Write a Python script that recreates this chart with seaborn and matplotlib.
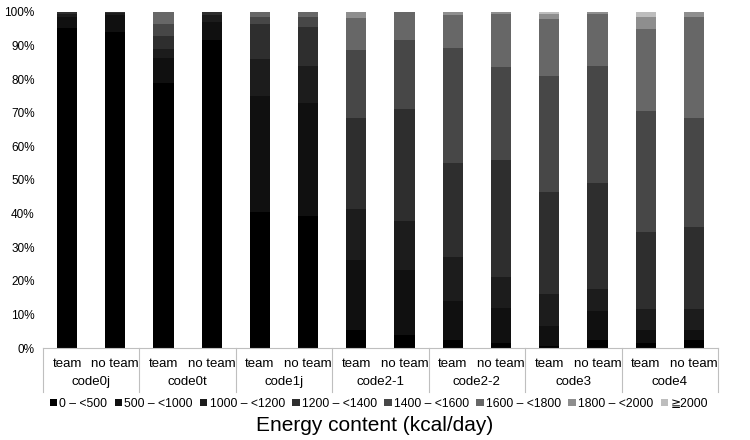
import numpy as np
import pandas as pd
import matplotlib
matplotlib.use("Agg")
import matplotlib.pyplot as plt
from matplotlib.patches import Patch
import seaborn as sns

codes = ["code0j", "code0t", "code1j", "code2-1", "code2-2", "code3", "code4"]
groups = ["team", "no team"]
energy_bins = ["0 – <500", "500 – <1000", "1000 – <1200", "1200 – <1400",
               "1400 – <1600", "1600 – <1800", "1800 – <2000", "≧2000"]
bin_colors = ["#000000", "#101010", "#1c1c1c", "#2e2e2e",
              "#474747", "#676767", "#8e8e8e", "#bdbdbd"]

# share (%) of each energy bin, one list per bar (team / no team per code)
code0j_team = [95.1, 3.4, 1.0, 0.5, 0, 0, 0, 0]
code0j_noteam = [94.1, 4.9, 0.7, 0.3, 0, 0, 0, 0]
code0t_team = [78.7, 7.5, 2.9, 3.8, 3.6, 3.5, 0, 0]
code0t_noteam = [91.5, 5.5, 2.0, 1.0, 0, 0, 0, 0]
code1j_team = [40.4, 34.6, 11.1, 10.4, 2.0, 1.5, 0, 0]
code1j_noteam = [39.3, 33.7, 10.9, 11.6, 3.0, 1.5, 0, 0]
code21_team = [5.4, 20.8, 15.2, 27.1, 20.3, 9.4, 1.8, 0]
code21_noteam = [4.0, 19.3, 14.5, 33.3, 20.5, 8.4, 0, 0]
code22_team = [2.3, 11.7, 13.0, 28.0, 34.4, 9.6, 1.0, 0]
code22_noteam = [1.5, 10.5, 9.0, 35.0, 27.5, 16.0, 0.5, 0]
code3_team = [0.5, 6.0, 9.5, 30.5, 34.5, 17.0, 1.5, 0.5]
code3_noteam = [2.5, 8.5, 6.5, 31.5, 35.0, 15.5, 0.5, 0]
code4_team = [1.5, 4.0, 6.0, 23.0, 36.0, 24.5, 3.5, 1.5]
code4_noteam = [2.5, 3.0, 6.0, 24.5, 32.5, 30.0, 1.5, 0]

bars = [code0j_team, code0j_noteam, code0t_team, code0t_noteam,
        code1j_team, code1j_noteam, code21_team, code21_noteam,
        code22_team, code22_noteam, code3_team, code3_noteam,
        code4_team, code4_noteam]

labels = [f"{c}|{g}" for c in codes for g in groups]
df = pd.DataFrame(bars, columns=energy_bins)
df.insert(0, "bar", labels)
cum = df[energy_bins].cumsum(axis=1)
cum = cum.div(cum[energy_bins[-1]], axis=0) * 100
cum["bar"] = labels

plt.rcParams["font.family"] = ["Liberation Sans", "DejaVu Sans"]
fig = plt.figure(figsize=(7.5, 4.4), dpi=100)
ax = fig.add_axes([0.0573, 0.209, 0.9, 0.764])

# draw cumulative totals from the top bin down so lower bins overlay them
for b, col in reversed(list(zip(energy_bins, bin_colors))):
    sns.barplot(data=cum, x="bar", y=b, order=labels, color=col,
                width=0.42, saturation=1, ax=ax, linewidth=0)

ax.set_xlim(-0.5, len(labels) - 0.5)
ax.set_ylim(0, 100)
ax.set_yticks(np.arange(0, 101, 10))
ax.set_yticklabels([f"{v}%" for v in range(0, 101, 10)], fontsize=8.5)
ax.tick_params(axis="y", length=0, pad=6)
ax.set_xticks([])
ax.set_xlabel("")
ax.set_ylabel("")
for s in ["top", "right", "left"]:
    ax.spines[s].set_visible(False)
ax.spines["bottom"].set_color("#bfbfbf")
ax.spines["bottom"].set_linewidth(0.8)

# two-level category labels under the axis
trans = ax.get_xaxis_transform()
for i, lab in enumerate(labels):
    g = lab.split("|")[1]
    ax.text(i, -0.048, g, transform=trans, ha="center", va="center",
            fontsize=9.5, clip_on=False)
for k, c in enumerate(codes):
    ax.text(2 * k + 0.5, -0.102, c, transform=trans, ha="center", va="center",
            fontsize=9.5, clip_on=False)
for k in range(len(codes) + 1):
    ax.plot([2 * k - 0.5, 2 * k - 0.5], [0, -0.13], transform=trans,
            color="#bfbfbf", linewidth=0.8, clip_on=False)

handles = [Patch(facecolor=c, edgecolor="none", label=b)
           for b, c in zip(energy_bins, bin_colors)]
fig.legend(handles=handles, loc="center", bbox_to_anchor=(0.505, 0.082),
           ncol=8, frameon=False, fontsize=8.7, handlelength=0.6,
           handleheight=0.6, handletextpad=0.2, columnspacing=0.6)
fig.text(0.5, 0.033, "Energy content (kcal/day)", ha="center", va="center",
         fontsize=15)

fig.savefig("out.png", dpi=100)
